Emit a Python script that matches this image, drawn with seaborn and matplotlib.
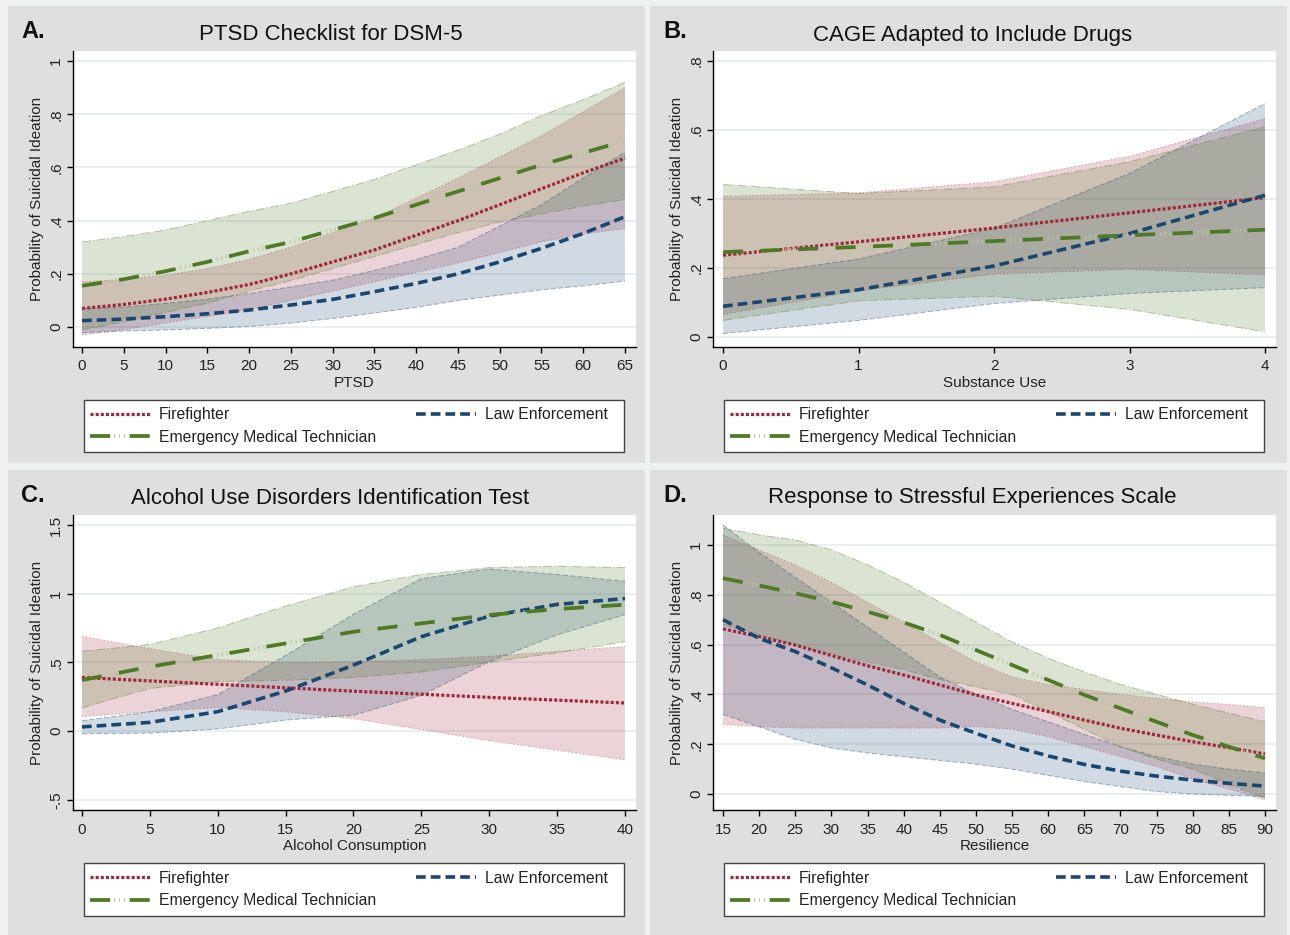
import matplotlib
matplotlib.use("Agg")
import matplotlib.pyplot as plt
import seaborn as sns
from matplotlib.lines import Line2D
from matplotlib.patches import Rectangle
from matplotlib.ticker import FuncFormatter

# ---- data ----
groups = ["Firefighter", "Emergency Medical Technician", "Law Enforcement"]

# A. PTSD Checklist for DSM-5
ptsd_x = [0, 5, 10, 15, 20, 25, 30, 35, 40, 45, 50, 55, 60, 65]
ptsd_ff = [0.07, 0.085, 0.105, 0.13, 0.16, 0.20, 0.245, 0.29, 0.345, 0.40, 0.46, 0.52, 0.58, 0.635]
ptsd_ff_lo = [-0.03, -0.01, 0.015, 0.04, 0.065, 0.10, 0.135, 0.17, 0.205, 0.24, 0.28, 0.32, 0.35, 0.37]
ptsd_ff_hi = [0.17, 0.18, 0.195, 0.22, 0.255, 0.30, 0.355, 0.41, 0.485, 0.56, 0.64, 0.72, 0.81, 0.90]
ptsd_emt = [0.155, 0.18, 0.21, 0.245, 0.285, 0.32, 0.365, 0.41, 0.46, 0.51, 0.56, 0.61, 0.655, 0.70]
ptsd_emt_lo = [-0.01, 0.02, 0.055, 0.09, 0.135, 0.175, 0.22, 0.265, 0.31, 0.355, 0.395, 0.425, 0.455, 0.48]
ptsd_emt_hi = [0.32, 0.34, 0.365, 0.40, 0.435, 0.465, 0.51, 0.555, 0.61, 0.665, 0.725, 0.795, 0.855, 0.92]
ptsd_le = [0.024, 0.03, 0.039, 0.05, 0.064, 0.083, 0.104, 0.133, 0.164, 0.20, 0.245, 0.296, 0.352, 0.415]
ptsd_le_lo = [-0.021, -0.015, -0.011, -0.005, 0.002, 0.015, 0.032, 0.053, 0.074, 0.10, 0.12, 0.14, 0.155, 0.173]
ptsd_le_hi = [0.069, 0.075, 0.089, 0.105, 0.126, 0.151, 0.176, 0.213, 0.254, 0.30, 0.38, 0.46, 0.56, 0.657]

# B. CAGE Adapted to Include Drugs
cage_x = [0, 1, 2, 3, 4]
cage_ff = [0.237, 0.276, 0.316, 0.36, 0.404]
cage_ff_lo = [0.065, 0.134, 0.182, 0.196, 0.18]
cage_ff_hi = [0.408, 0.418, 0.45, 0.524, 0.633]
cage_emt = [0.246, 0.261, 0.278, 0.295, 0.311]
cage_emt_lo = [0.048, 0.105, 0.118, 0.08, 0.015]
cage_emt_hi = [0.442, 0.416, 0.435, 0.508, 0.609]
cage_le = [0.089, 0.137, 0.206, 0.30, 0.411]
cage_le_lo = [0.01, 0.048, 0.097, 0.126, 0.143]
cage_le_hi = [0.169, 0.226, 0.315, 0.474, 0.677]

# C. Alcohol Use Disorders Identification Test
audit_x = [0, 5, 10, 15, 20, 25, 30, 35, 40]
audit_ff = [0.39, 0.365, 0.34, 0.315, 0.29, 0.268, 0.245, 0.225, 0.204]
audit_ff_lo = [0.105, 0.14, 0.17, 0.14, 0.09, 0.01, -0.07, -0.14, -0.21]
audit_ff_hi = [0.69, 0.60, 0.52, 0.50, 0.505, 0.52, 0.545, 0.58, 0.615]
audit_emt = [0.371, 0.468, 0.553, 0.638, 0.723, 0.784, 0.845, 0.888, 0.92]
audit_emt_lo = [0.17, 0.31, 0.36, 0.37, 0.39, 0.43, 0.50, 0.57, 0.65]
audit_emt_hi = [0.58, 0.63, 0.75, 0.91, 1.05, 1.14, 1.19, 1.20, 1.19]
audit_le = [0.03, 0.063, 0.141, 0.291, 0.48, 0.687, 0.837, 0.922, 0.965]
audit_le_lo = [-0.02, -0.015, 0.015, 0.08, 0.115, 0.26, 0.505, 0.70, 0.847]
audit_le_hi = [0.075, 0.14, 0.265, 0.55, 0.85, 1.11, 1.18, 1.14, 1.09]

# D. Response to Stressful Experiences Scale
rses_x = [15, 20, 25, 30, 35, 40, 45, 50, 55, 60, 65, 70, 75, 80, 85, 90]
rses_ff = [0.663, 0.632, 0.598, 0.556, 0.515, 0.478, 0.438, 0.398, 0.364, 0.331, 0.297, 0.264, 0.237, 0.21, 0.186, 0.161]
rses_ff_lo = [0.28, 0.27, 0.265, 0.265, 0.265, 0.265, 0.265, 0.27, 0.26, 0.23, 0.19, 0.15, 0.11, 0.06, 0.02, -0.024]
rses_ff_hi = [1.04, 0.98, 0.92, 0.85, 0.77, 0.69, 0.61, 0.53, 0.47, 0.44, 0.42, 0.40, 0.385, 0.37, 0.36, 0.347]
rses_emt = [0.866, 0.837, 0.806, 0.772, 0.732, 0.689, 0.639, 0.578, 0.518, 0.458, 0.398, 0.344, 0.29, 0.237, 0.19, 0.143]
rses_emt_lo = [0.68, 0.64, 0.60, 0.56, 0.53, 0.50, 0.46, 0.43, 0.40, 0.33, 0.26, 0.19, 0.14, 0.10, 0.04, -0.017]
rses_emt_hi = [1.067, 1.04, 1.02, 0.98, 0.92, 0.85, 0.77, 0.69, 0.61, 0.545, 0.49, 0.44, 0.40, 0.36, 0.325, 0.29]
rses_le = [0.70, 0.625, 0.572, 0.507, 0.438, 0.364, 0.297, 0.244, 0.193, 0.153, 0.119, 0.092, 0.072, 0.056, 0.043, 0.032]
rses_le_lo = [0.32, 0.27, 0.22, 0.185, 0.165, 0.15, 0.135, 0.12, 0.10, 0.075, 0.05, 0.03, 0.01, 0.0, -0.005, -0.01]
rses_le_hi = [1.08, 0.97, 0.87, 0.77, 0.67, 0.57, 0.47, 0.40, 0.34, 0.29, 0.24, 0.19, 0.15, 0.12, 0.10, 0.084]

# ---- style ----
sns.set_theme(style="ticks")
plt.rcParams["font.family"] = ["Liberation Sans", "DejaVu Sans"]
plt.rcParams["lines.scale_dashes"] = False

W, H = 1290, 935
c_ff, c_emt, c_le = "#a32638", "#4f7a25", "#1a4770"
c_dots = "#b7c79d"
ls_ff = (0, (2.2, 1.5))
ls_le = (0, (7, 3.6))
ls_emt = (0, (14.5, 12.5))
ls_dots = (9.1, (0.8, 2.6, 0.8, 2.6, 0.8, 19.4))


def stata_fmt(v, pos):
    s = f"{v:g}"
    if s.startswith("0."):
        s = s[1:]
    elif s.startswith("-0."):
        s = "-" + s[2:]
    return s


panels = [
    dict(letter="A.", title="PTSD Checklist for DSM-5", xlabel="PTSD", x=ptsd_x,
         est=[ptsd_ff, ptsd_emt, ptsd_le], lo=[ptsd_ff_lo, ptsd_emt_lo, ptsd_le_lo],
         hi=[ptsd_ff_hi, ptsd_emt_hi, ptsd_le_hi],
         xticks=list(range(0, 66, 5)), yticks=[0, 0.2, 0.4, 0.6, 0.8, 1],
         xlim=(-1.08, 66.32), ylim=(-0.075, 1.038),
         panel=(8, 6, 637, 457), axes=(73, 51, 563, 296), tity=35, legy=(400, 452)),
    dict(letter="B.", title="CAGE Adapted to Include Drugs", xlabel="Substance Use", x=cage_x,
         est=[cage_ff, cage_emt, cage_le], lo=[cage_ff_lo, cage_emt_lo, cage_le_lo],
         hi=[cage_ff_hi, cage_emt_hi, cage_le_hi],
         xticks=[0, 1, 2, 3, 4], yticks=[0, 0.2, 0.4, 0.6, 0.8],
         xlim=(-0.074, 4.081), ylim=(-0.029, 0.829),
         panel=(650, 6, 637, 457), axes=(713, 51, 563, 296), tity=35, legy=(400, 452)),
    dict(letter="C.", title="Alcohol Use Disorders Identification Test", xlabel="Alcohol Consumption",
         x=audit_x, est=[audit_ff, audit_emt, audit_le], lo=[audit_ff_lo, audit_emt_lo, audit_le_lo],
         hi=[audit_ff_hi, audit_emt_hi, audit_le_hi],
         xticks=list(range(0, 41, 5)), yticks=[-0.5, 0, 0.5, 1, 1.5],
         xlim=(-0.66, 40.81), ylim=(-0.575, 1.573),
         panel=(8, 470, 637, 465), axes=(73, 515, 563, 295), tity=498, legy=(863, 916)),
    dict(letter="D.", title="Response to Stressful Experiences Scale", xlabel="Resilience",
         x=rses_x, est=[rses_ff, rses_emt, rses_le], lo=[rses_ff_lo, rses_emt_lo, rses_le_lo],
         hi=[rses_ff_hi, rses_emt_hi, rses_le_hi],
         xticks=list(range(15, 91, 5)), yticks=[0, 0.2, 0.4, 0.6, 0.8, 1],
         xlim=(13.62, 91.52), ylim=(-0.064, 1.12),
         panel=(650, 470, 637, 465), axes=(713, 515, 563, 295), tity=498, legy=(863, 916)),
]

fig = plt.figure(figsize=(W / 100, H / 100), dpi=100, facecolor="#eef1f2")

colors = [c_ff, c_emt, c_le]
edge_ls = ["dotted", "dashdot", "dashed"]

for p in panels:
    px, py, pw, ph = p["panel"]
    fig.patches.append(Rectangle((px / W, 1 - (py + ph) / H), pw / W, ph / H,
                                 transform=fig.transFigure, facecolor="#dfdfdf",
                                 edgecolor="none", zorder=-10))
    ax_x, ax_y, ax_w, ax_h = p["axes"]
    ax = fig.add_axes([ax_x / W, 1 - (ax_y + ax_h) / H, ax_w / W, ax_h / H])
    ax.set_facecolor("white")

    # confidence bands: draw order FF, LE, EMT (Stata order)
    for i in [0, 2, 1]:
        ax.fill_between(p["x"], p["lo"][i], p["hi"][i], facecolor=colors[i], alpha=0.2,
                        edgecolor="none", zorder=1)
        for b in (p["lo"][i], p["hi"][i]):
            ax.plot(p["x"], b, color=colors[i], alpha=0.4, lw=0.7, ls=edge_ls[i], zorder=1.5)

    sns.lineplot(x=p["x"], y=p["est"][0], color=c_ff, lw=2.3, linestyle=ls_ff, ax=ax, zorder=3)
    sns.lineplot(x=p["x"], y=p["est"][2], color=c_le, lw=2.6, linestyle=ls_le, ax=ax, zorder=3)
    sns.lineplot(x=p["x"], y=p["est"][1], color=c_emt, lw=2.7, linestyle=ls_emt, ax=ax, zorder=3)
    sns.lineplot(x=p["x"], y=p["est"][1], color=c_dots, lw=2.7, linestyle=ls_dots, ax=ax, zorder=3)

    ax.set_xlim(*p["xlim"])
    ax.set_ylim(*p["ylim"])
    ax.set_xticks(p["xticks"])
    ax.set_yticks(p["yticks"])
    ax.yaxis.set_major_formatter(FuncFormatter(stata_fmt))
    ax.grid(axis="y", color="#e6eef0", lw=1.2, zorder=0)
    ax.set_axisbelow(True)
    for s in ["top", "right"]:
        ax.spines[s].set_visible(False)
    for s in ["left", "bottom"]:
        ax.spines[s].set_color("black")
        ax.spines[s].set_linewidth(1.0)
    ax.tick_params(axis="both", direction="out", length=4, width=1, color="black",
                   labelsize=11, labelcolor="#222222", pad=3)
    ax.tick_params(axis="x", pad=5)
    for t in ax.get_yticklabels():
        t.set_rotation(90)
        t.set_va("center")
    ax.set_xlabel(p["xlabel"], fontsize=11, color="#222222", labelpad=1.5)
    ax.set_ylabel("Probability of Suicidal Ideation", fontsize=11, color="#222222", labelpad=4)

    fig.text((px + pw / 2 + 4) / W, 1 - p["tity"] / H, p["title"], ha="center", va="center",
             fontsize=16, color="#111111")
    fig.text((px + 13) / W, 1 - (p["tity"] - 3) / H, p["letter"], ha="left", va="center",
             fontsize=17, fontweight="bold", color="#111111")

    # legend: frame drawn as a rectangle, entries placed inside it
    ly0, ly1 = p["legy"]
    bottom_px = ax_y + ax_h
    ax.add_patch(Rectangle((11 / ax_w, (bottom_px - ly1) / ax_h), 540 / ax_w, (ly1 - ly0) / ax_h,
                           transform=ax.transAxes, facecolor="white", edgecolor="#444444",
                           lw=1.0, clip_on=False, zorder=5))
    h_ff = Line2D([], [], color=c_ff, lw=2.3, linestyle=ls_ff)
    h_le = Line2D([], [], color=c_le, lw=2.6, linestyle=ls_le)
    h_emt = (Line2D([], [], color=c_emt, lw=2.7, linestyle=(0, (14.5, 14))),
             Line2D([], [], color=c_dots, lw=2.7, linestyle=(25.8, (0.8, 2.7, 0.8, 2.7, 0.8, 35.2))))
    leg = ax.legend([h_ff, h_emt, h_le], groups, ncol=2, loc="center left",
                    bbox_to_anchor=(17 / ax_w, (bottom_px - (ly0 + ly1) / 2) / ax_h),
                    frameon=False, fontsize=11.3, handlelength=3.8, handletextpad=0.6,
                    labelspacing=0.45, borderpad=0, borderaxespad=0, columnspacing=2.55)
    leg.set_zorder(6)
    for t in leg.get_texts():
        t.set_color("#222222")

fig.savefig("out.png", dpi=100, facecolor=fig.get_facecolor())
